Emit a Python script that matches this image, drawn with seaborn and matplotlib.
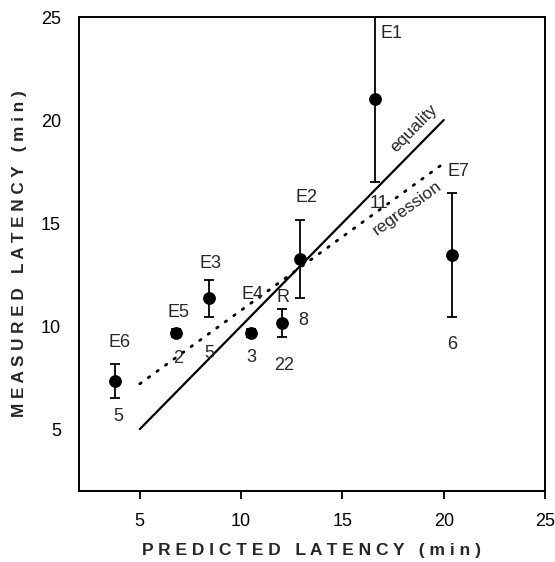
import matplotlib
matplotlib.use("Agg")
import matplotlib.pyplot as plt
import seaborn as sns
import numpy as np
import pandas as pd

# ---- data ----
names = ["E1", "E2", "E3", "E4", "E5", "E6", "E7", "R"]
counts = ["11", "8", "5", "3", "2", "5", "6", "22"]
predicted = [16.6, 12.9, 8.4, 10.5, 6.8, 3.8, 20.4, 12.0]
measured = [21.0, 13.25, 11.35, 9.65, 9.65, 7.35, 13.45, 10.15]
errors = [4.0, 1.9, 0.9, 0.2, 0.2, 0.83, 3.0, 0.7]

equality_x = [5, 20]
equality_y = [5, 20]
regression_x = [5, 20]
regression_y = [7.2, 17.9]

xticks = [5, 10, 15, 20, 25]
yticks = [5, 10, 15, 20, 25]

# label offsets in pixels (name above, count below)
name_off = [(17, 66), (7, 62), (2, 35), (1, 39), (2, 21), (4, 38), (7, 84), (1, 26)]
count_off = [(4, -104), (3, -61), (1, -55), (0, -24), (2, -25), (3, -36), (0, -89), (3, -42)]

df = pd.DataFrame({"pred": predicted, "meas": measured, "err": errors,
                   "name": names, "n": counts})

sns.set_theme(style="ticks")
plt.rcParams["font.family"] = ["Liberation Sans", "DejaVu Sans"]

fig = plt.figure(figsize=(5.55, 5.62), dpi=100)
ax = fig.add_axes([79 / 555, 71 / 562, 466 / 555, 474 / 562])

ax.errorbar(df["pred"], df["meas"], yerr=df["err"], fmt="none",
            ecolor="black", elinewidth=1.3, capsize=3.8, capthick=1.3, zorder=3)
sns.scatterplot(data=df, x="pred", y="meas", ax=ax, color="black", s=85,
                edgecolor="black", linewidth=0, zorder=4, legend=False)
sns.lineplot(x=equality_x, y=equality_y, ax=ax, color="black", lw=1.6)
sns.lineplot(x=regression_x, y=regression_y, ax=ax, color="black", lw=2.0,
             linestyle=(0, (0.6, 3.2)), dash_capstyle="round")

for i in range(len(df)):
    ax.annotate(names[i], (predicted[i], measured[i]), xytext=name_off[i],
                textcoords="offset pixels", ha="center", va="center", fontsize=13)
    ax.annotate(counts[i], (predicted[i], measured[i]), xytext=count_off[i],
                textcoords="offset pixels", ha="center", va="center", fontsize=13)

ax.text(18.55, 19.6, "equality", rotation=45.5, ha="center", va="center",
        fontsize=12.5, rotation_mode="anchor")
ax.text(18.2, 15.73, "regression", rotation=36, ha="center", va="center",
        fontsize=12.5, rotation_mode="anchor")

ax.set_xlim(2, 25)
ax.set_ylim(2, 25)
ax.set_xticks(xticks)
ax.set_yticks(yticks)
ax.set_xticklabels([str(t) for t in xticks], fontsize=13)
ax.set_yticklabels([str(t) for t in yticks], fontsize=13)
ax.tick_params(axis="x", direction="out", length=6, width=1.3, pad=10, colors="black")
ax.tick_params(axis="y", length=0, pad=13, colors="black")
for s in ax.spines.values():
    s.set_linewidth(1.4)
    s.set_color("black")

ax.set_xlabel(" ".join("PREDICTED") + "   " + " ".join("LATENCY") + "   " + " ".join("(min)"),
              fontsize=12.5, fontweight="bold", labelpad=9)
ax.set_ylabel(" ".join("MEASURED") + "   " + " ".join("LATENCY") + "   " + " ".join("(min)"),
              fontsize=12.3, fontweight="bold", labelpad=10)

fig.savefig("out.png", dpi=100)
